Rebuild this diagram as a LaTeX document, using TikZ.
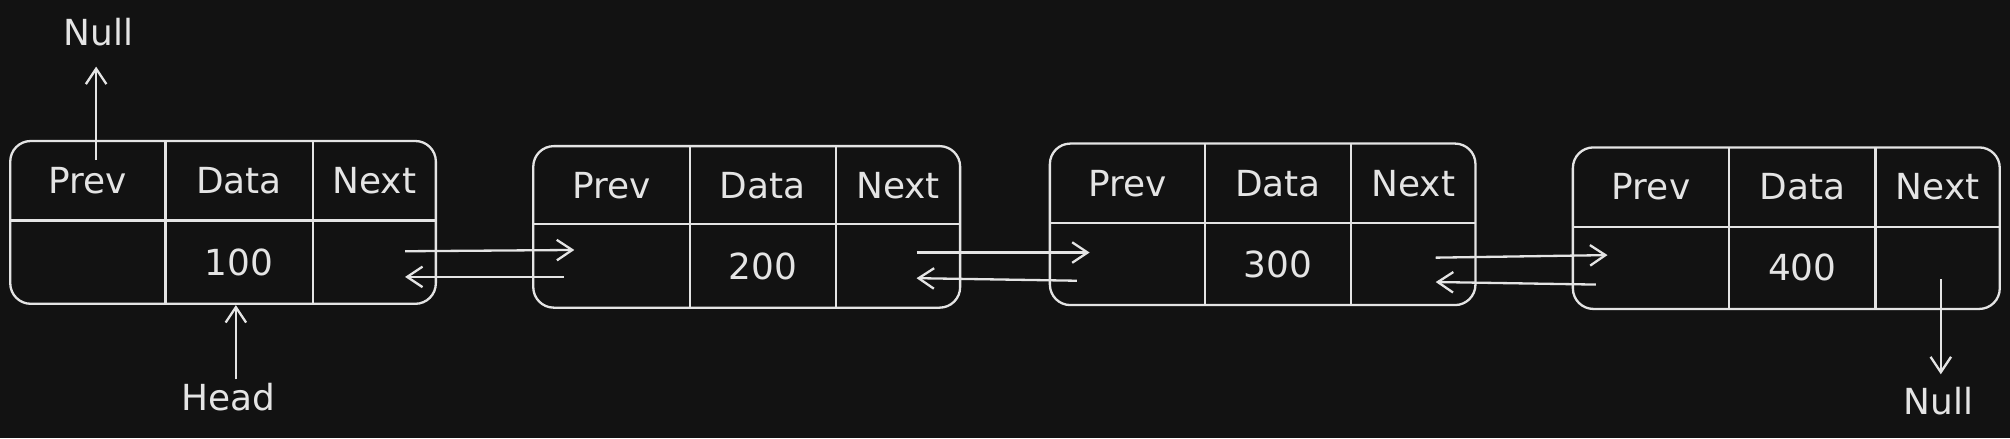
\documentclass[tikz,border=0pt]{standalone}
\usepackage{fontspec}
\setmainfont{DejaVu Sans}
\usetikzlibrary{arrows.meta,calc}
\definecolor{bg}{HTML}{121212}
\definecolor{fg}{HTML}{E4E4E4}
\tikzset{
  cell/.style={draw=fg, line width=0.9pt, rounded corners=8pt, inner sep=0pt},
  lbl/.style={text=fg, font=\fontsize{14}{16}\selectfont},
  arr/.style={draw=fg, line width=0.9pt, -{Straight Barb[length=6pt,width=8pt]}},
  ln/.style={draw=fg, line width=0.9pt}
}
\begin{document}
\begin{tikzpicture}[x=0.5pt,y=-0.5pt]
\fill[bg] (0,0) rectangle (1568,342);
\useasboundingbox (0,0) rectangle (1568,342);
\foreach \n/\l/\t/\r/\b/\va/\vb/\h/\val in {1/8/110/340/237/129/244/172/100, 2/416/114/749/240/538/652/175/200, 3/819/112/1151/238/940/1054/174/300, 4/1227/115/1560/241/1349/1463/177/400}{
  \node[cell, minimum width={(\r-\l)*0.5pt}, minimum height={(\b-\t)*0.5pt}] (b\n) at ({(\l+\r)/2},{(\t+\b)/2}) {};
  \draw[ln] (\l,\h) -- (\r,\h);
  \draw[ln] (\va,\t) -- (\va,\b);
  \draw[ln] (\vb,\t) -- (\vb,\b);
  \node[lbl] (p\n) at ({(\l+\va)/2},{(\t+\h)/2}) {Prev};
  \node[lbl] (d\n) at ({(\va+\vb)/2},{(\t+\h)/2}) {Data};
  \node[lbl] (x\n) at ({(\vb+\r)/2},{(\t+\h)/2}) {Next};
  \node[lbl] (v\n) at ({(\va+\vb)/2},{(\h+\b)/2}) {\val};
}
\coordinate (f1s) at (316,196); \coordinate (f1e) at (448,195);
\coordinate (g1s) at (440,216); \coordinate (g1e) at (316,216);
\coordinate (f2s) at (715,197); \coordinate (f2e) at (850,197);
\coordinate (g2s) at (840,219); \coordinate (g2e) at (715,217);
\coordinate (f3s) at (1120,201); \coordinate (f3e) at (1254,199);
\coordinate (g3s) at (1245,222); \coordinate (g3e) at (1120,220);
\foreach \i in {1,2,3}{
  \draw[arr] (f\i s) -- (f\i e);
  \draw[arr] (g\i s) -- (g\i e);
}
\node[lbl] (null1) at (77,25) {Null};
\coordinate (n1s) at (75,125); \coordinate (n1e) at (75,52);
\draw[arr] (n1s) -- (n1e);
\node[lbl] (head) at (178,310) {Head};
\coordinate (hs) at (184,296); \coordinate (he) at (184,238);
\draw[arr] (hs) -- (he);
\node[lbl] (null2) at (1512,313) {Null};
\coordinate (n2s) at (1514,218); \coordinate (n2e) at (1514,292);
\draw[arr] (n2s) -- (n2e);
\end{tikzpicture}
\end{document}
